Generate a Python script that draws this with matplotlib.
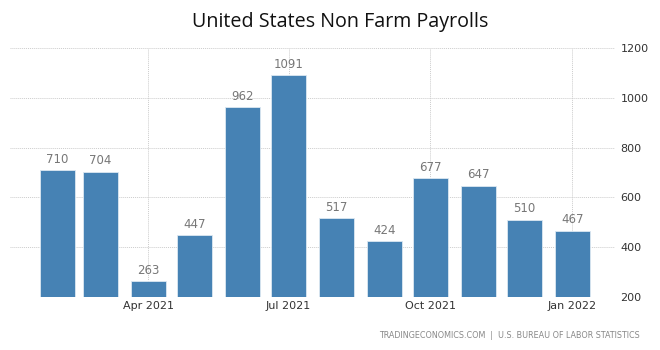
import matplotlib
matplotlib.use("Agg")
import matplotlib.pyplot as plt
from datetime import datetime, timedelta

months = ["2021-02-01", "2021-03-01", "2021-04-01", "2021-05-01", "2021-06-01", "2021-07-01",
          "2021-08-01", "2021-09-01", "2021-10-01", "2021-11-01", "2021-12-01", "2022-01-01"]
payrolls = [710, 704, 263, 447, 962, 1091, 517, 424, 677, 647, 510, 467]
xtick_dates = ["2021-04-01", "2021-07-01", "2021-10-01", "2022-01-01"]
xtick_labels = ["Apr 2021", "Jul 2021", "Oct 2021", "Jan 2022"]
ytick_values = [200, 400, 600, 800, 1000, 1200]

bar_color = "#4682b4"
text_gray = "#777777"

fig = plt.figure(figsize=(6.6, 3.5), dpi=100)
ax = fig.add_axes([10 / 660, 53 / 350, 605 / 660, 249 / 350])

dates = [datetime.strptime(d, "%Y-%m-%d") for d in months]
ax.bar(dates, payrolls, width=22.7, bottom=0, color=bar_color,
       edgecolor="#dce8f2", linewidth=0.6, zorder=3)

for d, v in zip(dates, payrolls):
    ax.text(d, v + 18, str(v), ha="center", va="bottom",
            fontsize=8.5, color=text_gray, zorder=4)

apr = datetime(2021, 4, 1)
ax.set_xlim(apr - timedelta(days=89.7), apr + timedelta(days=302.7))
ax.set_ylim(200, 1200)

ax.set_xticks([datetime.strptime(d, "%Y-%m-%d") for d in xtick_dates])
ax.set_xticklabels(xtick_labels, fontsize=8, color="#333333")

ax.yaxis.tick_right()
ax.set_yticks(ytick_values)
ax.set_yticklabels([str(v) for v in ytick_values], fontsize=8, color="#333333")
ax.tick_params(axis="both", length=0, pad=3)
ax.tick_params(axis="y", pad=4)

ax.grid(True, axis="both", color="#cccccc", linestyle=(0, (1, 1)), linewidth=0.7, zorder=0)
for s in ax.spines.values():
    s.set_visible(False)

fig.text(340 / 660, 1 - 22 / 350, "United States Non Farm Payrolls",
         ha="center", va="center", fontsize=14.2, color="#111111", family="Open Sans")
fig.text(640 / 660, 1 - 336 / 350,
         "TRADINGECONOMICS.COM  |  U.S. BUREAU OF LABOR STATISTICS",
         ha="right", va="center", fontsize=5.8, color="#888888")

fig.savefig("out.png", dpi=100, facecolor="white")
